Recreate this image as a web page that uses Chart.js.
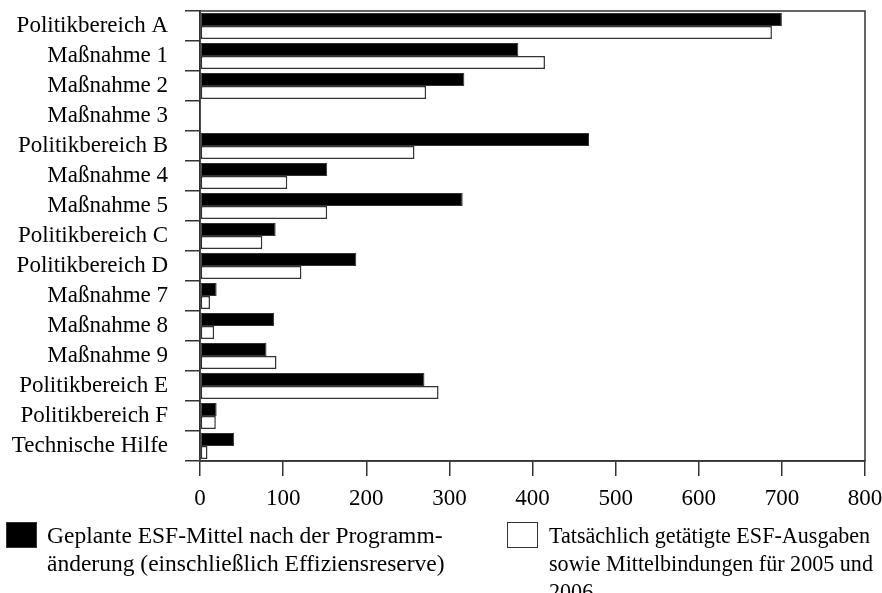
<!DOCTYPE html>
<html>
<head>
<meta charset="utf-8">
<script src="https://cdn.jsdelivr.net/npm/chart.js@4/dist/chart.umd.min.js"></script>
<style>
  body { margin: 0; background: #fff; }
  #wrap { position: relative; width: 882px; height: 593px; overflow: hidden; }
  .leg { position: absolute; font-family: "Liberation Serif", serif; font-size: 23.5px; line-height: 28px; color: #000; white-space: nowrap; transform-origin: left top; }
  .box { position: absolute; width: 31px; height: 26px; border: 1px solid #333; box-sizing: border-box; }
</style>
</head>
<body>
<div id="wrap">
  <canvas id="myChart" width="882" height="593"></canvas>
  <div class="box" style="left:6px;top:522px;background:#000;"></div>
  <div class="leg" style="left:47px;top:521px;">Geplante ESF-Mittel nach der Programm-<br>änderung (einschließlich Effiziensreserve)</div>
  <div class="box" style="left:507px;top:522px;background:#fff;"></div>
  <div class="leg" style="left:549px;top:521px;transform:scaleX(0.94);">Tatsächlich getätigte ESF-Ausgaben<br>sowie Mittelbindungen für 2005 und<br>2006</div>
</div>
<script>
const categories = ["Politikbereich A","Maßnahme 1","Maßnahme 2","Maßnahme 3","Politikbereich B","Maßnahme 4","Maßnahme 5","Politikbereich C","Politikbereich D","Maßnahme 7","Maßnahme 8","Maßnahme 9","Politikbereich E","Politikbereich F","Technische Hilfe"];
const planned = [700,383,318,0,468,153,316,91,188,20,89,80,270,20,41];
const actual = [688,415,272,0,258,105,153,75,122,12,17,92,287,19,9];
const xTicks = [0,100,200,300,400,500,600,700,800];

const font = {family: '"Liberation Serif", serif', size: 23};

// frame around the plot area
const frame = {
    id: 'frame',
    afterDraw(chart) {
        const a = chart.chartArea, c = chart.ctx;
        c.save();
        c.strokeStyle = '#333';
        c.lineWidth = 1.5;
        c.strokeRect(a.left, a.top, a.right - a.left, a.bottom - a.top);
        c.restore();
    }
};

const ctx = document.getElementById("myChart").getContext('2d');
const myChart = new Chart(ctx, {
    type: 'bar',
    data: {
        labels: categories,
        datasets: [{
            label: 'Geplante ESF-Mittel',
            data: planned,
            backgroundColor: '#000',
            borderColor: '#333',
            borderWidth: 1,
            borderSkipped: false
        }, {
            label: 'Tatsächlich getätigte ESF-Ausgaben',
            data: actual,
            backgroundColor: '#fff',
            borderColor: '#333',
            borderWidth: 1.5,
            borderSkipped: false
        }]
    },
    options: {
        indexAxis: 'y',
        responsive: false,
        animation: false,
        categoryPercentage: 0.86,
        barPercentage: 1,
        layout: { padding: { top: 11, right: 17 } },
        plugins: { legend: { display: false }, tooltip: { enabled: false } },
        scales: {
            x: {
                min: 0, max: 800,
                afterBuildTicks: s => { s.ticks = xTicks.map(v => ({value: v})); },
                afterFit: s => { s.height = 132; s.paddingLeft = 0; s.paddingRight = 0; },
                grid: { drawOnChartArea: false, tickLength: 15, color: '#333', lineWidth: 1.5 },
                border: { color: '#333', width: 1.5 },
                ticks: { color: '#000', font: font, padding: 9, maxRotation: 0 }
            },
            y: {
                afterFit: s => { s.width = 200; s.paddingTop = 0; s.paddingBottom = 0; },
                grid: { drawOnChartArea: false, tickLength: 15, color: '#333', lineWidth: 1.5, offset: true },
                border: { color: '#333', width: 1.5 },
                ticks: { color: '#000', font: font, padding: 17, autoSkip: false }
            }
        }
    },
    plugins: [frame]
});
</script>
</body>
</html>
